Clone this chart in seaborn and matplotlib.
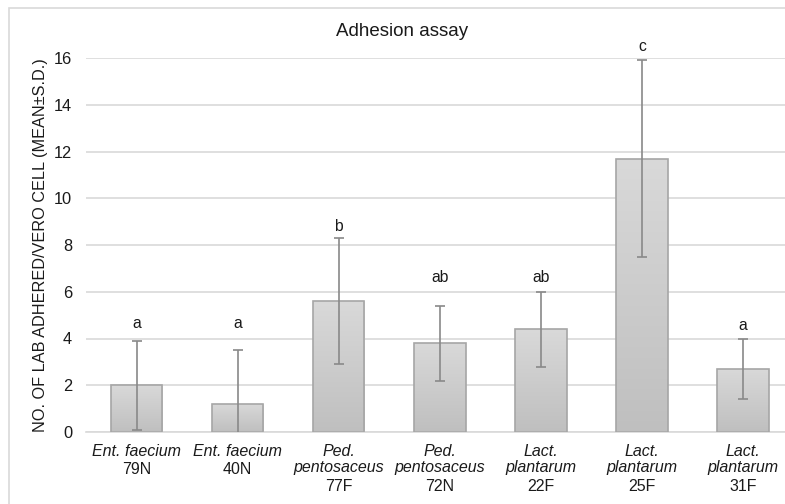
import numpy as np
import matplotlib
matplotlib.use("Agg")
import matplotlib.pyplot as plt
import matplotlib.patches as mpatches
import matplotlib.transforms as mtransforms
import seaborn as sns

# data
species = ["Ent. faecium", "Ent. faecium", "Ped.\npentosaceus", "Ped.\npentosaceus",
           "Lact.\nplantarum", "Lact.\nplantarum", "Lact.\nplantarum"]
strains = ["79N", "40N", "77F", "72N", "22F", "25F", "31F"]
means = [2.0, 1.2, 5.6, 3.8, 4.4, 11.7, 2.7]
sds = [1.9, 2.3, 2.7, 1.6, 1.6, 4.2, 1.3]
letters = ["a", "a", "b", "ab", "ab", "c", "a"]
letter_y = [4.65, 4.65, 8.8, 6.6, 6.6, 16.5, 4.55]

sns.set_style("white")
plt.rcParams["font.family"] = ["Liberation Sans", "DejaVu Sans"]

W, H = 785, 504
fig = plt.figure(figsize=(W / 100, H / 100), dpi=100)
ax = fig.add_axes([86 / W, (H - 432) / H, (793.5 - 86) / W, (432 - 58) / H])

# outer chart border
fig.patches.append(mpatches.Rectangle((9 / W, -0.1), 1.2, 1 - 8 / H + 0.1,
                                      transform=fig.transFigure, fill=False,
                                      edgecolor="#d9d9d9", linewidth=1.2))

ids = [f"{s} {k}" for s, k in zip(species, strains)]
sns.barplot(x=ids, y=means, ax=ax, width=0.51, color="#cccccc",
            edgecolor="#a6a6a6", linewidth=1.2, errorbar=None, zorder=2)

# vertical grey gradient inside each bar
grad = np.linspace(0, 1, 256).reshape(-1, 1)
cmap = matplotlib.colors.LinearSegmentedColormap.from_list("g", ["#bfbfbf", "#d9d9d9"])
for p in ax.patches:
    x0, y0 = p.get_x(), p.get_y()
    im = ax.imshow(grad, cmap=cmap, origin="lower", aspect="auto",
                   extent=(x0, x0 + p.get_width(), y0, y0 + p.get_height()), zorder=2.5)
    im.set_clip_path(p)
    p.set_zorder(3)
    p.set_facecolor("none")

xs = np.arange(len(means))
ax.errorbar(xs, means, yerr=sds, fmt="none", ecolor="#898989", elinewidth=1.2,
            capsize=3.5, capthick=1.2, zorder=4)

for x, t, y in zip(xs, letters, letter_y):
    ax.text(x, y, t, ha="center", va="center", fontsize=11.3, color="#1a1a1a", clip_on=False)

ax.set_xlim(-0.5, 6.5)
ax.set_ylim(0, 16)
ax.set_yticks(range(0, 17, 2))
ax.grid(axis="y", color="#d9d9d9", linewidth=1.2, zorder=0)
ax.set_axisbelow(True)
for s in ["top", "right", "left"]:
    ax.spines[s].set_visible(False)
ax.spines["bottom"].set_color("#d9d9d9")
ax.spines["bottom"].set_linewidth(1.2)
ax.tick_params(length=0)
ax.tick_params(axis="y", labelsize=11.8, labelcolor="#1a1a1a", pad=10)
ax.set_xticks(xs)
ax.set_xticklabels([""] * len(xs))

trans = mtransforms.blended_transform_factory(ax.transData, ax.transAxes)
for x, sp, st in zip(xs, species, strains):
    nl = sp.count("\n") + 1
    ax.annotate(sp, xy=(x, 0), xycoords=trans, xytext=(0, -12), textcoords="offset pixels",
                ha="center", va="top", fontsize=11.5, style="italic", color="#1a1a1a",
                linespacing=1.12)
    ax.annotate(st, xy=(x, 0), xycoords=trans, xytext=(0, -12 - 17.5 * nl), textcoords="offset pixels",
                ha="center", va="top", fontsize=11.5, color="#1a1a1a")

ax.set_ylabel("NO. OF LAB ADHERED/VERO CELL (MEAN±S.D.)", fontsize=11.7, color="#1a1a1a", labelpad=4)
fig.text(402 / W, 1 - 32 / H, "Adhesion assay", ha="center", va="center", fontsize=13.5, color="#1a1a1a")

fig.savefig("out.png", dpi=100)
